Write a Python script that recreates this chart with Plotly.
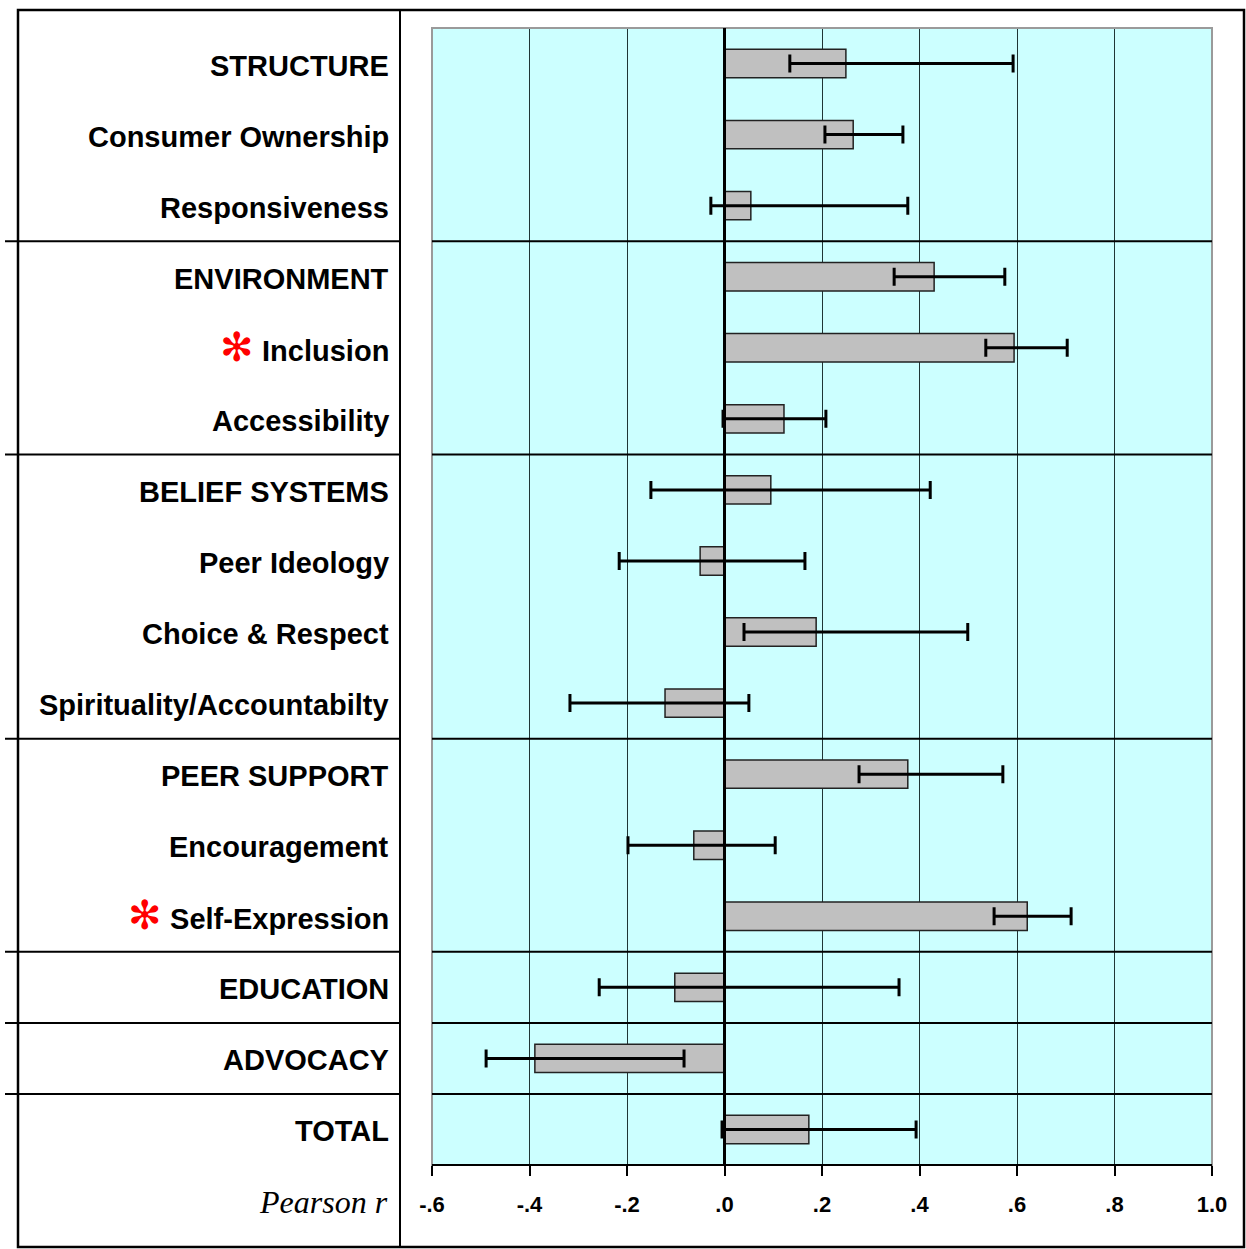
import plotly.graph_objects as go

# Scale / subscale names, top to bottom
labels = [
    "STRUCTURE", "Consumer Ownership", "Responsiveness",
    "ENVIRONMENT", "Inclusion", "Accessibility",
    "BELIEF SYSTEMS", "Peer Ideology", "Choice & Respect", "Spirituality/Accountabilty",
    "PEER SUPPORT", "Encouragement", "Self-Expression",
    "EDUCATION", "ADVOCACY", "TOTAL",
]
# Pearson r for each scale
r_values = [0.249, 0.264, 0.054, 0.430, 0.594, 0.122, 0.095, -0.050, 0.188, -0.122,
            0.376, -0.063, 0.621, -0.102, -0.389, 0.173]
# Confidence interval bounds
ci_low = [0.134, 0.206, -0.028, 0.348, 0.536, -0.003, -0.151, -0.216, 0.040, -0.317,
          0.276, -0.198, 0.553, -0.257, -0.489, -0.005]
ci_high = [0.592, 0.366, 0.376, 0.575, 0.703, 0.208, 0.422, 0.165, 0.499, 0.050,
           0.571, 0.104, 0.711, 0.358, -0.083, 0.393]
# Significant subscales get a red asterisk
significant = ["Inclusion", "Self-Expression"]
# Index after which a group separator is drawn
group_breaks = [2.5, 5.5, 9.5, 12.5, 13.5, 14.5]
tick_vals = [-0.6, -0.4, -0.2, 0.0, 0.2, 0.4, 0.6, 0.8, 1.0]
tick_text = ["-.6", "-.4", "-.2", ".0", ".2", ".4", ".6", ".8", "1.0"]

rows = list(range(len(labels)))
err_plus = [h - v for h, v in zip(ci_high, r_values)]
err_minus = [v - l for v, l in zip(r_values, ci_low)]

fig = go.Figure()
fig.add_trace(go.Bar(
    x=r_values, y=rows, orientation="h", width=0.4,
    marker=dict(color="#C0C0C0", line=dict(color="#222222", width=1.5)),
    error_x=dict(type="data", symmetric=False, array=err_plus, arrayminus=err_minus,
                 color="black", thickness=3, width=9),
    hoverinfo="x+y",
))

W, H = 1246, 1249
L, R, T, B = 432, 34, 28, 84
pw, ph = W - L - R, H - T - B


def px(xp):
    return (xp - L) / pw


def py(yp):
    return 1 - (yp - T) / ph


shapes = []
# plot frame (grey), group separators, zero line
shapes.append(dict(type="rect", xref="paper", yref="paper", x0=0, x1=1, y0=0, y1=1,
                   line=dict(color="#9a9a9a", width=2), layer="above"))
for gb in group_breaks:
    shapes.append(dict(type="line", xref="paper", yref="y", x0=0, x1=1, y0=gb, y1=gb,
                       line=dict(color="black", width=2), layer="above"))
    shapes.append(dict(type="line", xref="paper", yref="y", x0=px(5), x1=px(400), y0=gb, y1=gb,
                       line=dict(color="black", width=2), layer="above"))
shapes.append(dict(type="line", xref="x", yref="paper", x0=0, x1=0, y0=0, y1=1,
                   line=dict(color="black", width=3), layer="above"))
shapes.append(dict(type="line", xref="paper", yref="paper", x0=0, x1=1, y0=0, y1=0,
                   line=dict(color="black", width=2), layer="above"))
# outer border and label column divider
shapes.append(dict(type="rect", xref="paper", yref="paper", x0=px(18), x1=px(1244),
                   y0=py(1247), y1=py(10), line=dict(color="black", width=2.5)))
shapes.append(dict(type="line", xref="paper", yref="paper", x0=px(400), x1=px(400),
                   y0=py(1247), y1=py(10), line=dict(color="black", width=2)))

annotations = []
for i, lab in enumerate(labels):
    txt = "<b>" + lab.replace("&", "&amp;") + "</b>"
    shift = -2
    if lab in significant:
        txt = "<span style='color:#ff0000;font-size:40px'>✻</span> " + txt
        shift = 1
    annotations.append(dict(text=txt, xref="paper", yref="y",
                            x=px(391), y=i, xanchor="right", yanchor="middle",
                            yshift=shift, showarrow=False,
                            font=dict(family="Liberation Sans, Arial", size=29, color="black")))
annotations.append(dict(text="<i>Pearson r</i>", xref="paper", yref="paper",
                        x=px(390), y=py(1202), xanchor="right", yanchor="middle",
                        showarrow=False,
                        font=dict(family="Liberation Serif, Times New Roman", size=32, color="black")))

fig.update_layout(
    width=W, height=H, autosize=False,
    margin=dict(l=L, r=R, t=T, b=B),
    paper_bgcolor="white", plot_bgcolor="#CCFFFF",
    showlegend=False,
    shapes=shapes, annotations=annotations,
    xaxis=dict(range=[-0.6, 1.0], tickvals=tick_vals, ticktext=tick_text,
               showgrid=True, gridcolor="#1f3535", gridwidth=1, zeroline=False,
               ticks="outside", ticklen=10, tickwidth=1.5, tickcolor="black",
               ticklabelstandoff=10,
               tickfont=dict(family="Liberation Sans, Arial", size=22, color="black",
                             weight="bold"),
               showline=False, fixedrange=True),
    yaxis=dict(range=[15.5, -0.5], showticklabels=False, showgrid=False, zeroline=False,
               ticks="", fixedrange=True),
)

fig.write_html("out.html")
